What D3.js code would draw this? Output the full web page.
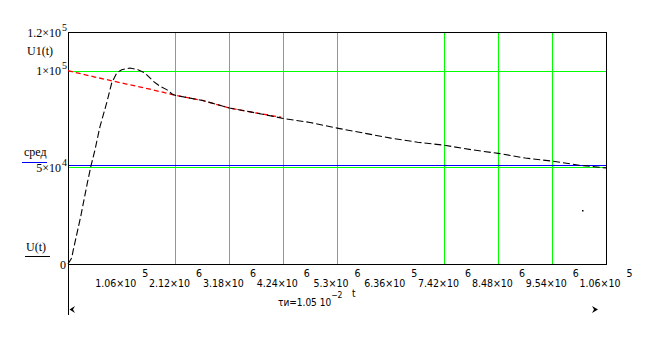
<!DOCTYPE html>
<html><head><meta charset="utf-8">
<script src="https://cdn.jsdelivr.net/npm/d3@7"></script>
<style>
html,body{margin:0;padding:0;background:#fff;}
svg{display:block;}
.serif{font-family:"Liberation Serif","Times New Roman",serif;}
.sans{font-family:"Liberation Sans Narrow","DejaVu Sans Condensed","Liberation Sans",sans-serif;}
</style>
</head><body>
<svg id="chart" width="647" height="349"></svg>
<script>
// ---- data (t in units of 1e-3 s, U in volts) ----
const xTickValues = [1.06, 2.12, 3.18, 4.24, 5.3, 6.36, 7.42, 8.48, 9.54, 10.6];
const xTickMantissa = ["1.06×10", "2.12×10", "3.18×10", "4.24×10", "5.3×10", "6.36×10", "7.42×10", "8.48×10", "9.54×10", "1.06×10"];
const xTickExponent = ["5", "6", "6", "6", "6", "5", "6", "6", "6", "5"];
const xGridValues = [2.12, 3.18, 4.24, 5.3, 7.42, 8.48, 9.54];

const yTickValues = [0, 50000, 100000, 120000];
const yTickMantissa = ["0", "5×10", "1×10", "1.2×10"];
const yTickExponent = ["", "4", "5", "5"];
const yGridValues = [50000, 100000];

// U(t) – black dashed
const uTime = [0, 0.073, 0.104, 0.25, 0.38, 0.453, 0.532, 0.63, 0.762, 0.861, 0.96, 1.058, 1.222, 1.379, 1.517, 1.681, 1.813, 1.945, 2.043, 2.12, 2.65, 3.18, 3.71, 4.24, 4.77, 5.3, 5.83, 6.36, 6.89, 7.42, 7.95, 8.48, 9.01, 9.54, 10.07, 10.6];
const uValue = [0, 3100, 7250, 24500, 41800, 50800, 59100, 71100, 83300, 93600, 98800, 100500, 101400, 100500, 98800, 94500, 91900, 90200, 88100, 87200, 84600, 80700, 78100, 75300, 73200, 70300, 67700, 65100, 63000, 61400, 59100, 57200, 54800, 53200, 51100, 49700];

// U1(t) – red dashed
const u1Time = [0, 0.53, 1.06, 1.59, 2.12, 2.65, 3.18, 3.71, 4.2];
const u1Value = [100000, 96700, 93600, 90600, 87200, 84600, 80700, 78100, 75900];

// U сред – blue
const uMean = 50400;

// stray point
const strayTime = [10.13];
const strayValue = [28000];

// ---- chart ----
const svg = d3.select("#chart");
const x = d3.scaleLinear().domain([0, 10.6]).range([68, 606]);
const y = d3.scaleLinear().domain([0, 120000]).range([264, 32]);

// grid
svg.append("g").attr("shape-rendering", "crispEdges").selectAll("line").data(xGridValues).join("line")
  .attr("x1", d => Math.floor(x(d)) + 0.5).attr("x2", d => Math.floor(x(d)) + 0.5)
  .attr("y1", y(120000)).attr("y2", y(0))
  .attr("stroke", "#00ff00").attr("stroke-width", 1.2);
svg.append("g").attr("shape-rendering", "crispEdges").selectAll("line").data(yGridValues).join("line")
  .attr("x1", x(0)).attr("x2", x(10.6))
  .attr("y1", d => Math.round(y(d)) + 0.5).attr("y2", d => Math.round(y(d)) + 0.5)
  .attr("stroke", "#00ff00").attr("stroke-width", 1.2);

// mean line
svg.append("line").attr("shape-rendering", "crispEdges")
  .attr("x1", x(0)).attr("x2", x(10.6))
  .attr("y1", Math.floor(y(uMean)) - 0.5).attr("y2", Math.floor(y(uMean)) - 0.5)
  .attr("stroke", "#0000ff").attr("stroke-width", 1.2);

// frame
svg.append("rect").attr("shape-rendering", "crispEdges")
  .attr("x", x(0) + 0.5).attr("y", y(120000) + 0.5)
  .attr("width", x(10.6) - x(0)).attr("height", y(0) - y(120000))
  .attr("fill", "none").attr("stroke", "#000").attr("stroke-width", 1);
// left axis extension below plot
svg.append("line").attr("shape-rendering", "crispEdges").attr("x1", x(0) + 0.5).attr("x2", x(0) + 0.5)
  .attr("y1", y(0)).attr("y2", 315).attr("stroke", "#000");
// range markers
svg.append("path").attr("d", `M${x(0)+7},306 L${x(0)+1.5},309.5 L${x(0)+7},313 L${x(0)+5},309.5 Z`).attr("fill", "#000");
svg.append("path").attr("d", "M592,306 L598,309.5 L592,313 L594,309.5 Z").attr("fill", "#000");

const line = d3.line().x(d => x(d[0])).y(d => y(d[1]));

// U1 red
svg.append("path")
  .datum(u1Time.map((t, i) => [t, u1Value[i]]))
  .attr("d", line).attr("fill", "none")
  .attr("stroke", "#ff0000").attr("stroke-width", 1.3)
  .attr("stroke-dasharray", "5,3");

// U black
svg.append("path")
  .datum(uTime.map((t, i) => [t, uValue[i]]))
  .attr("d", line).attr("fill", "none")
  .attr("stroke", "#000").attr("stroke-width", 1.1)
  .attr("stroke-dasharray", "7,3");

svg.append("g").selectAll("rect").data(strayTime).join("rect")
  .attr("x", (d) => Math.round(x(d))).attr("y", (d, i) => Math.round(y(strayValue[i])))
  .attr("width", 1.5).attr("height", 1.5).attr("fill", "#000");

// x tick labels
const xl = svg.append("g").attr("class", "sans").attr("font-size", 10.5).attr("fill", "#000");
xTickValues.forEach((v, i) => {
  const g = xl.append("text").attr("y", 287).attr("text-anchor", "middle").attr("x", x(v));
  g.append("tspan").text(xTickMantissa[i]);
  g.append("tspan").attr("dx", 6).attr("dy", -10).text(xTickExponent[i]);
});

// y tick labels
const yl = svg.append("g").attr("class", "serif").attr("font-size", 12).attr("fill", "#000");
yTickValues.forEach((v, i) => {
  const base = y(v) + 4.5;
  yl.append("text").attr("x", yTickExponent[i] ? 61 : 66).attr("y", base).attr("text-anchor", "end").text(yTickMantissa[i]);
  if (yTickExponent[i]) {
    yl.append("text").attr("x", 62).attr("y", base - 6).attr("font-size", 10).text(yTickExponent[i]);
  }
});

// legend labels
const lg = svg.append("g").attr("class", "serif").attr("font-size", 12).attr("fill", "#000");
lg.append("text").attr("x", 27).attr("y", 55).text("U1(t)");
lg.append("text").attr("x", 24).attr("y", 156).text("сред");
svg.append("line").attr("shape-rendering", "crispEdges").attr("x1", 22).attr("x2", 47).attr("y1", 162.5).attr("y2", 162.5).attr("stroke", "#0000ff").attr("stroke-width", 1.2);
lg.append("text").attr("x", 26).attr("y", 251).text("U(t)");
svg.append("line").attr("shape-rendering", "crispEdges").attr("x1", 25).attr("x2", 50).attr("y1", 256.5).attr("y2", 256.5).attr("stroke", "#000");

// x axis caption
const cap = svg.append("g").attr("class", "sans").attr("font-size", 10).attr("fill", "#000");
const c = cap.append("text").attr("x", 278).attr("y", 306);
c.append("tspan").text("τи=1.05 10");
c.append("tspan").attr("dy", -8).attr("font-size", 8.5).text("−2");
cap.append("text").attr("x", 352).attr("y", 297).text("t");
</script>
</body></html>
